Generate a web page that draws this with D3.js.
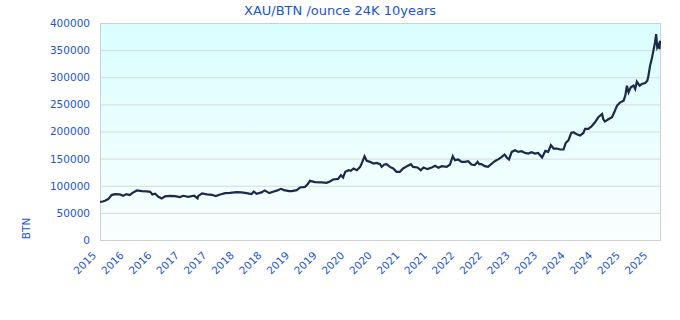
<!DOCTYPE html>
<html>
<head>
<meta charset="utf-8">
<script src="https://cdn.jsdelivr.net/npm/d3@7"></script>
<style>
  body { margin: 0; background: #fff; }
  svg text { font-family: "DejaVu Sans", Verdana, sans-serif; fill: #1a55d6; }
</style>
</head>
<body>
<svg id="chart" width="680" height="320"></svg>
<script>
const title = 'XAU/BTN /ounce 24K 10years';
const yLabel = 'BTN';

// decimal year of each reading
const years = [
  2015.86, 2015.91, 2015.95, 2016.01, 2016.07, 2016.13, 2016.22, 2016.28, 2016.34, 2016.40,
  2016.45, 2016.53, 2016.62, 2016.71, 2016.77, 2016.81, 2016.86, 2016.92, 2016.98, 2017.04,
  2017.13, 2017.22, 2017.31, 2017.37, 2017.46, 2017.57, 2017.63, 2017.64, 2017.71, 2017.80,
  2017.89, 2017.96, 2018.04, 2018.13, 2018.22, 2018.34, 2018.43, 2018.52, 2018.61, 2018.65,
  2018.70, 2018.79, 2018.85, 2018.93, 2019.00, 2019.08, 2019.14, 2019.20, 2019.29, 2019.34,
  2019.43, 2019.49, 2019.58, 2019.63, 2019.67, 2019.76, 2019.88, 2019.97, 2020.03, 2020.09,
  2020.18, 2020.23, 2020.27, 2020.31, 2020.37, 2020.41, 2020.46, 2020.52, 2020.58, 2020.62,
  2020.66, 2020.70, 2020.76, 2020.82, 2020.88, 2020.94, 2020.97, 2021.02, 2021.06, 2021.12,
  2021.18, 2021.24, 2021.30, 2021.36, 2021.43, 2021.50, 2021.54, 2021.62, 2021.68, 2021.73,
  2021.80, 2021.88, 2021.94, 2022.00, 2022.06, 2022.15, 2022.21, 2022.26, 2022.30, 2022.36,
  2022.42, 2022.48, 2022.54, 2022.60, 2022.66, 2022.71, 2022.74, 2022.78, 2022.84, 2022.90,
  2022.97, 2023.03, 2023.09, 2023.15, 2023.20, 2023.24, 2023.28, 2023.33, 2023.39, 2023.45,
  2023.51, 2023.57, 2023.63, 2023.69, 2023.75, 2023.81, 2023.88, 2023.94, 2023.99, 2024.04,
  2024.09, 2024.15, 2024.21, 2024.27, 2024.31, 2024.36, 2024.41, 2024.45, 2024.50, 2024.57,
  2024.63, 2024.66, 2024.72, 2024.78, 2024.84, 2024.90, 2024.97, 2024.99, 2025.02, 2025.09,
  2025.15, 2025.19, 2025.24, 2025.30, 2025.36, 2025.39, 2025.42, 2025.45, 2025.49, 2025.54,
  2025.57, 2025.60, 2025.65, 2025.69, 2025.75, 2025.79, 2025.81, 2025.84, 2025.87, 2025.90,
  2025.93, 2025.95, 2025.97, 2026.00, 2026.01, 2026.02
];

// price per ounce in BTN
const prices = [
  70400, 71000, 72300, 75400, 82800, 84600, 84000, 81500, 84600, 82800,
  87000, 91400, 90100, 89500, 88800, 84000, 85200, 79600, 76700, 80400,
  81500, 80900, 79100, 81500, 79600, 81500, 76700, 81000, 85900, 84000,
  83300, 80900, 84000, 86400, 87000, 88300, 87700, 86400, 84600, 89500,
  85200, 87700, 91400, 86400, 88800, 91400, 94300, 91900, 90100, 90100,
  91900, 96900, 98000, 103000, 109000, 106700, 106100, 105400, 108000, 111600,
  112700, 119500, 115300, 125600, 128700, 127400, 131800, 128700, 134800, 144000,
  154500, 145800, 144000, 141000, 142200, 139800, 134800, 139200, 139800, 134800,
  131900, 125600, 125600, 131900, 136100, 139800, 134800, 133700, 128700, 133700,
  130600, 133700, 136700, 133000, 136100, 134800, 139200, 154500, 147100, 148400,
  144000, 144000, 145300, 139200, 138000, 144000, 139800, 139800, 136100, 134800,
  141000, 145800, 149000, 153200, 157600, 152100, 148400, 162400, 165500, 162400,
  163700, 160500, 159400, 161800, 159400, 160500, 152100, 164200, 162400, 174700,
  168600, 168600, 166800, 166800, 178900, 183900, 197300, 198600, 195500, 192500,
  197300, 204700, 204700, 209600, 217000, 226200, 232300, 223100, 218300, 223100,
  226200, 235400, 247700, 253800, 256900, 266100, 284500, 272200, 281400, 284500,
  278300, 291900, 284500, 287500, 289300, 293700, 302900, 321300, 333400, 348900,
  364100, 379400, 355000, 361000, 351800, 367300
];

const tickYears = [
  2015.86, 2016.36, 2016.86, 2017.36, 2017.86, 2018.36, 2018.86, 2019.36, 2019.86, 2020.36,
  2020.86, 2021.36, 2021.86, 2022.36, 2022.86, 2023.36, 2023.86, 2024.36, 2024.86, 2025.36,
  2025.86
];
const tickLabels = [
  '2015', '2016', '2016', '2017', '2017', '2018', '2018', '2019', '2019', '2020',
  '2020', '2021', '2021', '2022', '2022', '2023', '2023', '2024', '2024', '2025',
  '2025'
];
const yTicks = [0, 50000, 100000, 150000, 200000, 250000, 300000, 350000, 400000];

const svg = d3.select('#chart');
const margin = { top: 23, right: 20, bottom: 80, left: 100 };
const width = +svg.attr('width') - margin.left - margin.right;
const height = +svg.attr('height') - margin.top - margin.bottom;

const x = d3.scaleLinear()
  .domain([years[0], years[years.length - 1]])
  .range([0, width]);

const y = d3.scaleLinear()
  .domain([0, 400000])
  .range([height, 0]);

// background gradient
const grad = svg.append('defs').append('linearGradient')
  .attr('id', 'bg')
  .attr('x1', 0).attr('y1', 0).attr('x2', 0).attr('y2', 1);
grad.append('stop').attr('offset', '0%').attr('stop-color', '#d9fefe');
grad.append('stop').attr('offset', '100%').attr('stop-color', '#fafefe');

svg.append('text')
  .attr('x', 340)
  .attr('y', 15)
  .attr('text-anchor', 'middle')
  .style('font-size', '13px')
  .text(title);

const g = svg.append('g')
  .attr('transform', `translate(${margin.left},${margin.top})`);

g.append('rect')
  .attr('width', width)
  .attr('height', height)
  .attr('fill', 'url(#bg)');

// grid
g.selectAll('.grid')
  .data(yTicks)
  .join('line')
  .attr('class', 'grid')
  .attr('x1', 0)
  .attr('x2', width)
  .attr('y1', d => y(d) + 0.5)
  .attr('y2', d => y(d) + 0.5)
  .attr('stroke', '#d9d9d9')
  .attr('stroke-width', 1);

g.append('rect')
  .attr('x', 0.5)
  .attr('y', 0.5)
  .attr('width', width)
  .attr('height', height)
  .attr('fill', 'none')
  .attr('stroke', '#cfcfcf');

const line = d3.line()
  .x((d, i) => x(years[i]))
  .y(d => y(d));

g.append('path')
  .datum(prices)
  .attr('fill', 'none')
  .attr('stroke', '#1a2a48')
  .attr('stroke-width', 2.2)
  .attr('d', line);

// y axis
const yAxis = g.append('g')
  .call(d3.axisLeft(y).tickValues(yTicks).tickFormat(d3.format('d')).tickSize(0).tickPadding(10));
yAxis.select('.domain').remove();
yAxis.selectAll('text')
  .style('font-size', '10.5px')
  .style('font-family', '"DejaVu Sans", Verdana, sans-serif')
  .attr('fill', '#1a55d6');

// x axis
const xAxis = g.append('g')
  .attr('transform', `translate(0,${height})`)
  .call(d3.axisBottom(x).tickValues(tickYears).tickFormat((d, i) => tickLabels[i]).tickSize(0));
xAxis.select('.domain').remove();
xAxis.selectAll('text')
  .style('font-size', '10.5px')
  .style('font-family', '"DejaVu Sans", Verdana, sans-serif')
  .attr('fill', '#1a55d6')
  .attr('text-anchor', 'end')
  .attr('x', -3.5)
  .attr('y', 16)
  .attr('dy', 0)
  .attr('transform', 'rotate(-45,-3.5,16)');

svg.append('text')
  .attr('transform', 'translate(30,228.5) rotate(-90)')
  .attr('text-anchor', 'middle')
  .style('font-size', '10.5px')
  .text(yLabel);
</script>
</body>
</html>
